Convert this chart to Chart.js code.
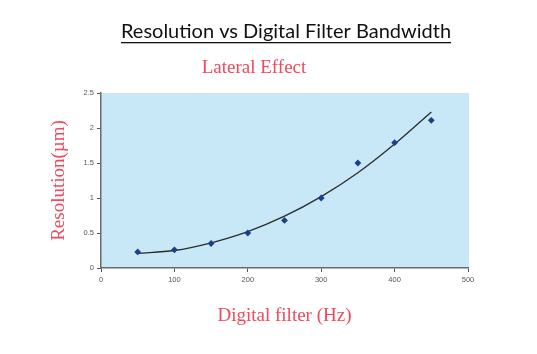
<!DOCTYPE html>
<html>
<head>
<meta charset="utf-8">
<script src="https://cdn.jsdelivr.net/npm/chart.js@4/dist/chart.umd.min.js"></script>
<style>
  html, body { margin: 0; padding: 0; background: #ffffff; }
  #wrap { position: relative; width: 537px; height: 354px; }
</style>
</head>
<body>
<div id="wrap"><canvas id="c" width="537" height="354"></canvas></div>
<script>
// ---- data ----
const filterHz = [50, 100, 150, 200, 250, 300, 350, 400, 450];
const resolutionUm = [0.23, 0.26, 0.35, 0.50, 0.68, 1.00, 1.50, 1.79, 2.11];
const trendHz = [50, 100, 150, 200, 250, 300, 350, 400, 450];
const trendUm = [0.21, 0.25, 0.36, 0.52, 0.74, 1.02, 1.36, 1.77, 2.23];
const xTickValues = [0, 100, 200, 300, 400, 500];
const yTickValues = [0, 0.5, 1, 1.5, 2, 2.5];
const chartTitle = 'Resolution vs Digital Filter Bandwidth';
const chartSubtitle = 'Lateral Effect';
const xTitle = 'Digital filter (Hz)';
const yTitle = 'Resolution(\u00b5m)';

const redText = '#f2485c';

const bgPlugin = {
  id: 'bg',
  beforeDraw(chart) {
    const {ctx, chartArea: a} = chart;
    ctx.save();
    ctx.fillStyle = '#c8e8f8';
    ctx.fillRect(a.left, a.top, a.right - a.left + 1, a.bottom - a.top);
    ctx.restore();
  }
};

const titlePlugin = {
  id: 'titles',
  afterDraw(chart) {
    const {ctx} = chart;
    ctx.save();
    ctx.textAlign = 'center';
    ctx.textBaseline = 'alphabetic';
    ctx.fillStyle = '#111111';
    ctx.font = '20px Lato, "Open Sans", sans-serif';
    const cx = 286;
    ctx.fillText(chartTitle, cx, 38);
    const w = ctx.measureText(chartTitle).width;
    ctx.fillRect(cx - w / 2, 42, w, 1.3);
    ctx.fillStyle = redText;
    ctx.font = '19px "Liberation Serif", "Times New Roman", serif';
    ctx.fillText(chartSubtitle, 254, 73);
    ctx.restore();
  }
};

const tickFont = { family: '"Liberation Sans", Arial, sans-serif', size: 7.5 };
const titleFont = { family: '"Liberation Serif", "Times New Roman", serif', size: 19, lineHeight: 1.2 };
const tickLabel = v => String(v);

new Chart(document.getElementById('c'), {
  type: 'scatter',
  data: {
    datasets: [
      {
        type: 'line',
        label: 'trend',
        data: trendHz.map((x, i) => ({x, y: trendUm[i]})),
        borderColor: '#2b2b2b',
        borderWidth: 1.3,
        pointRadius: 0,
        fill: false,
        cubicInterpolationMode: 'monotone',
        order: 2
      },
      {
        label: 'Resolution',
        data: filterHz.map((x, i) => ({x, y: resolutionUm[i]})),
        pointStyle: 'rectRot',
        pointRadius: 3.4,
        backgroundColor: '#1d3f88',
        borderColor: '#1d3f88',
        borderWidth: 0,
        order: 1
      }
    ]
  },
  options: {
    responsive: false,
    animation: false,
    devicePixelRatio: 1,
    layout: { padding: { left: 44, right: 69, top: 93, bottom: 23 } },
    plugins: {
      legend: { display: false },
      tooltip: { enabled: false },
      title: { display: false }
    },
    scales: {
      x: {
        type: 'linear',
        min: 0, max: 500,
        afterBuildTicks(s) { s.ticks = xTickValues.map(v => ({value: v})); },
        afterFit(s) { s.height = 63; },
        grid: { display: true, drawOnChartArea: false, drawTicks: true, tickLength: 4, color: '#555555', lineWidth: 1 },
        border: { display: true, color: '#6a6a6a', width: 1.5 },
        ticks: { color: '#555555', font: tickFont, padding: 3, maxRotation: 0, callback: tickLabel },
        title: { display: true, text: xTitle, color: redText, font: titleFont, padding: { top: 4, bottom: 4 } }
      },
      y: {
        type: 'linear',
        min: 0, max: 2.5,
        afterBuildTicks(s) { s.ticks = yTickValues.map(v => ({value: v})); },
        afterFit(s) { s.width = 57; },
        grid: { display: true, drawOnChartArea: false, drawTicks: true, tickLength: 4, color: '#555555', lineWidth: 1 },
        border: { display: true, color: '#6a6a6a', width: 1.5 },
        ticks: { color: '#555555', font: tickFont, padding: 3, callback: tickLabel },
        title: { display: true, text: yTitle, color: redText, font: titleFont, padding: { top: 4, bottom: 4 } }
      }
    }
  },
  plugins: [bgPlugin, titlePlugin]
});
</script>
</body>
</html>
